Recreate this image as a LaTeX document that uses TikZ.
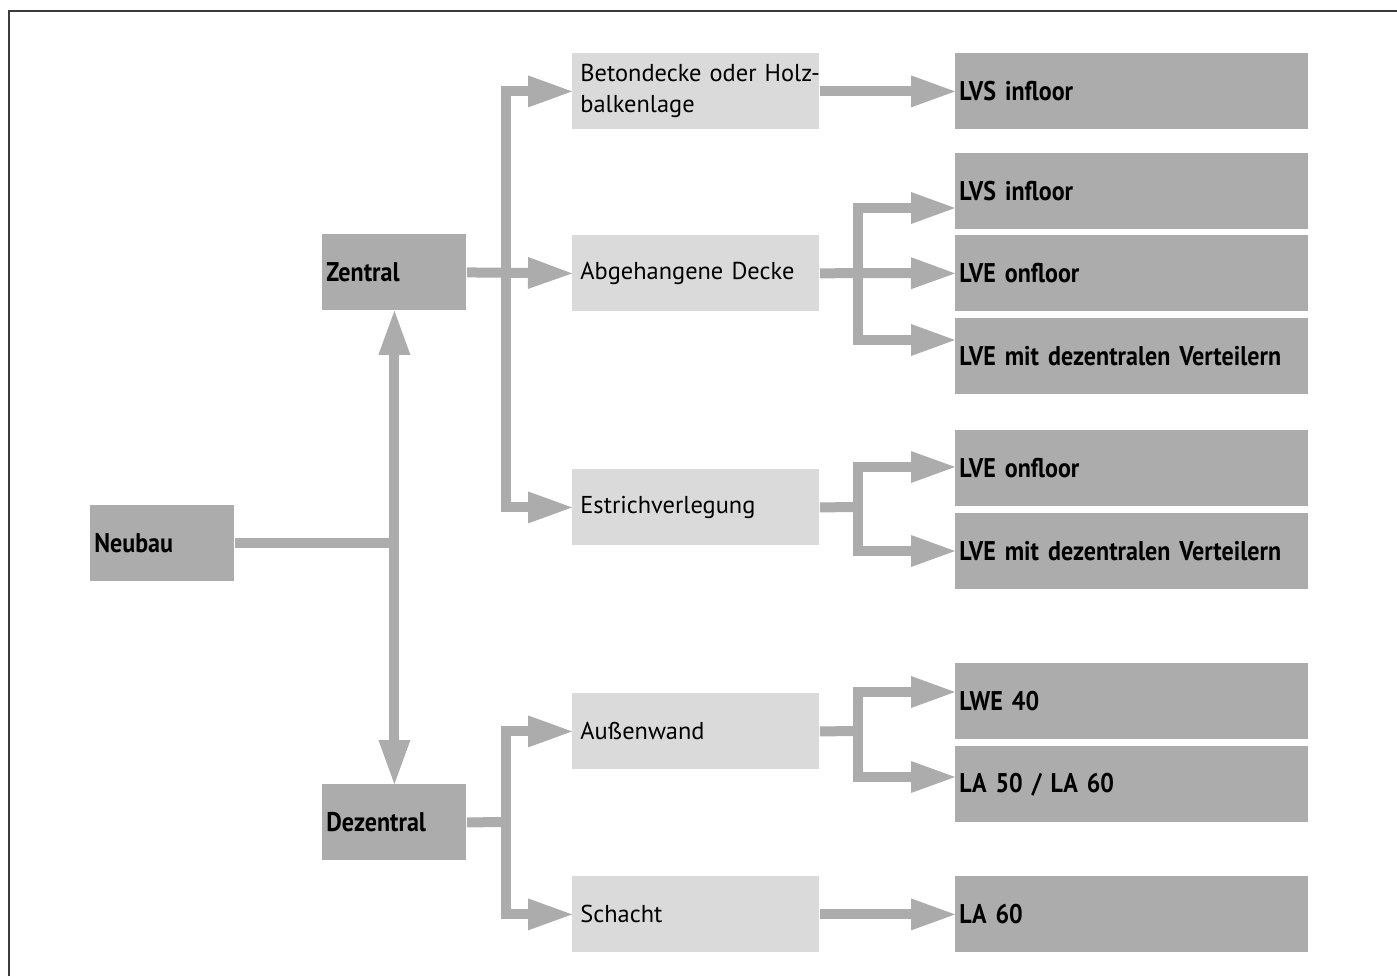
\documentclass[tikz,border=0pt]{standalone}
\usepackage{fontspec}
\setmainfont{PT Sans}[BoldFeatures={FakeStretch=0.89}]
\usetikzlibrary{arrows.meta,calc}
\definecolor{dk}{RGB}{171,172,171}
\definecolor{lt}{RGB}{218,218,218}
\definecolor{fr}{RGB}{60,60,60}
\begin{document}
\begin{tikzpicture}[x=0.5pt,y=-0.5pt,
  box/.style={anchor=north west, inner ysep=0pt, minimum height=38pt, align=left, font=\fontsize{12.2}{15.5}\selectfont},
  sbox/.style={box, fill=dk, inner xsep=2pt, text width=68pt, font=\bfseries\fontsize{13.5}{16}\selectfont},
  rbox/.style={box, fill=dk, inner xsep=2pt, text width=172.5pt, font=\bfseries\fontsize{13.5}{16}\selectfont},
  lbox/.style={box, fill=lt, inner xsep=4pt, text width=115.5pt},
  conn/.style={draw=dk, line width=5pt},
  arr/.style={conn, -{Triangle[length=22pt,width=16pt,line width=0pt]}}
]
\useasboundingbox (0,0) rectangle (1397,976);
\draw[fr, line width=1pt] (9,976) -- (9,11) -- (1397,11);

% left column
\node[sbox] (neubau) at (90,505) {Neubau};
\node[sbox] (zentral) at (322,234) {Zentral};
\node[sbox] (dez) at (322,784) {Dezentral};

% middle column
\node[lbox] (beton) at (572,53) {\mbox{Betondecke oder Holz-}\\balkenlage};
\node[lbox] (abg) at (572,235) {Abgehangene Decke};
\node[lbox] (estrich) at (572,469) {Estrichverlegung};
\node[lbox] (aussen) at (572,693) {Außenwand};
\node[lbox] (schacht) at (572,876) {Schacht};

% right column
\node[rbox] (lvs1) at (955,53) {LVS infloor};
\node[rbox] (lvs2) at (955,153) {LVS infloor};
\node[rbox] (lve1) at (955,235) {LVE onfloor};
\node[rbox] (lvd1) at (955,318) {LVE mit dezentralen Verteilern};
\node[rbox] (lve2) at (955,430) {LVE onfloor};
\node[rbox] (lvd2) at (955,513) {LVE mit dezentralen Verteilern};
\node[rbox] (lwe) at (955,663) {LWE 40};
\node[rbox] (la5) at (955,746) {LA 50 / LA 60};
\node[rbox] (la6) at (955,876) {LA 60};

% junctions
\coordinate (nj) at (zentral.south |- neubau.east);
\coordinate (zt) at (506,273);
\coordinate (dj) at (506,822);
\coordinate (aj) at (858,273);
\coordinate (a1) at (955,208);
\coordinate (a3) at (955,340);
\coordinate (ej) at (858,507);
\coordinate (e1) at (955,467);
\coordinate (e2) at (955,551);
\coordinate (wj) at (858,731);
\coordinate (w1) at (955,692);
\coordinate (w2) at (955,777);

% Neubau
\draw[conn] (neubau.east) -- (nj);
\draw[arr] (nj) -- (zentral.south);
\draw[arr] (nj) -- (dez.north);

% Zentral
\draw[arr] (zt) |- (beton.west);
\draw[arr] (zt) |- (estrich.west);
\draw[arr] (zentral.east) -- (abg.west);

% Dezentral
\draw[conn] (dez.east) -- (dj);
\draw[arr] (dj) |- (aussen.west);
\draw[arr] (dj) |- (schacht.west);

% middle to right
\draw[arr] (beton.east) -- (lvs1.west);
\draw[conn] (abg.east) -- (aj);
\draw[arr] (aj) |- (a1);
\draw[arr] (aj) -- (lve1.west);
\draw[arr] (aj) |- (a3);
\draw[conn] (estrich.east) -- (ej);
\draw[arr] (ej) |- (e1);
\draw[arr] (ej) |- (e2);
\draw[conn] (aussen.east) -- (wj);
\draw[arr] (wj) |- (w1);
\draw[arr] (wj) |- (w2);
\draw[arr] (schacht.east) -- (la6.west);
\end{tikzpicture}
\end{document}
